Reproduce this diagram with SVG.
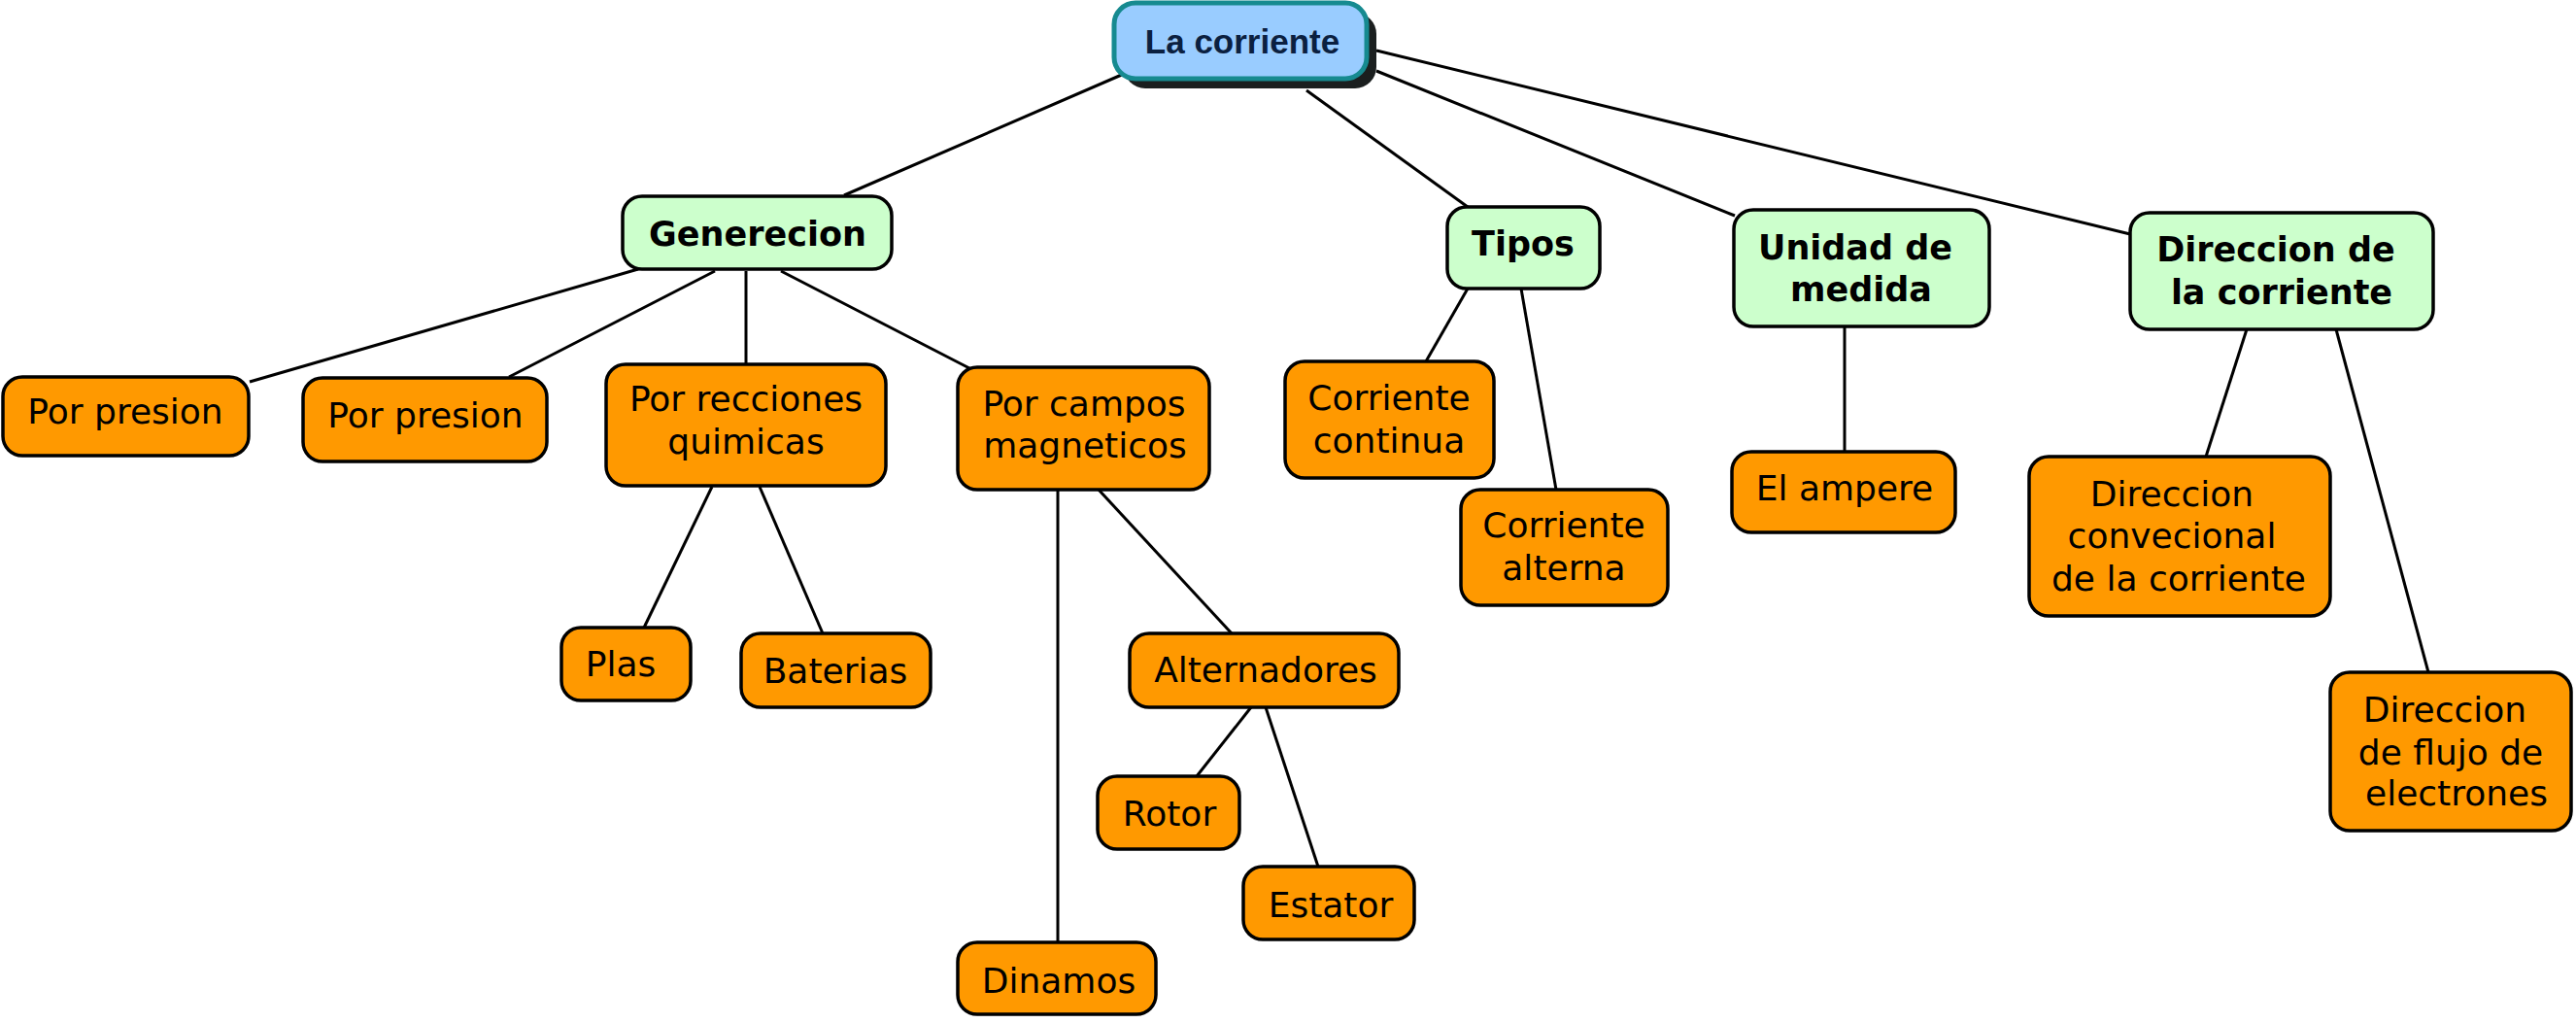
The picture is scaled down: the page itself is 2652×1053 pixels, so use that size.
<svg xmlns="http://www.w3.org/2000/svg" width="2652" height="1053" viewBox="0 0 2652 1053">
<style>
.bg{fill:#ffffff}
.c line{stroke:#000;stroke-width:3;fill:none}
.o{fill:#ff9900;stroke:#000;stroke-width:3.5}
.g{fill:#ccffcc;stroke:#000;stroke-width:3.5}
.t{font-family:"DejaVu Sans",Verdana,sans-serif;font-size:36px;fill:#000;text-anchor:middle}
.b{font-family:"DejaVu Sans",Verdana,sans-serif;font-size:35px;font-weight:bold;fill:#000;text-anchor:middle}
</style>
<rect class="bg" x="0" y="0" width="2652" height="1053"/>
<g id="connectors" class="c">
<line x1="1157" y1="76" x2="869" y2="201"/>
<line x1="1345" y1="93" x2="1511" y2="213"/>
<line x1="1417" y1="73" x2="1786" y2="222"/>
<line x1="1417" y1="52" x2="2193" y2="241"/>
<line x1="657" y1="277" x2="257" y2="393"/>
<line x1="736" y1="279" x2="524" y2="388"/>
<line x1="768" y1="279" x2="768" y2="375"/>
<line x1="804" y1="279" x2="998" y2="379"/>
<line x1="733" y1="501" x2="663" y2="646"/>
<line x1="782" y1="501" x2="847" y2="652"/>
<line x1="1089" y1="504" x2="1089" y2="970"/>
<line x1="1131" y1="504" x2="1268" y2="652"/>
<line x1="1288" y1="728" x2="1232" y2="799"/>
<line x1="1303" y1="728" x2="1357" y2="892"/>
<line x1="1511" y1="297" x2="1468" y2="372"/>
<line x1="1566" y1="297" x2="1602" y2="504"/>
<line x1="1899" y1="336" x2="1899" y2="465"/>
<line x1="2313" y1="339" x2="2271" y2="470"/>
<line x1="2405" y1="339" x2="2500" y2="692"/>
</g>
<g id="la-corriente">
<rect x="1157" y="13" width="260" height="78" rx="22" fill="#1b1f1f"/>
<rect x="1147" y="3" width="260" height="78" rx="22" fill="#99ccff" stroke="#168a90" stroke-width="5"/>
<text x="1279" y="55" font-family="'Liberation Sans',Arial,sans-serif" font-size="35" font-weight="bold" fill="#0b2040" text-anchor="middle">La corriente</text>
</g>
<g id="generecion">
<rect class="g" x="641" y="202" width="277" height="75" rx="20"/>
<text class="b" x="780" y="253">Generecion</text>
</g>
<g id="tipos">
<rect class="g" x="1490" y="213" width="157" height="84" rx="20"/>
<text class="b" x="1568" y="263">Tipos</text>
</g>
<g id="unidad">
<rect class="g" x="1785" y="216" width="263" height="120" rx="20"/>
<text class="b" x="1910" y="267">Unidad de</text>
<text class="b" x="1916" y="310">medida</text>
</g>
<g id="direccion">
<rect class="g" x="2193" y="219" width="312" height="120" rx="20"/>
<text class="b" x="2343" y="269">Direccion de</text>
<text class="b" x="2349" y="313">la corriente</text>
</g>
<g id="por-presion-1">
<rect class="o" x="3" y="388" width="253" height="81" rx="20"/>
<text class="t" x="129" y="436">Por presion</text>
</g>
<g id="por-presion-2">
<rect class="o" x="312" y="389" width="251" height="86" rx="20"/>
<text class="t" x="438" y="440">Por presion</text>
</g>
<g id="por-recciones">
<rect class="o" x="624" y="375" width="288" height="125" rx="20"/>
<text class="t" x="768" y="423">Por recciones</text>
<text class="t" x="768" y="467">quimicas</text>
</g>
<g id="por-campos">
<rect class="o" x="986" y="378" width="259" height="126" rx="20"/>
<text class="t" x="1116" y="428">Por campos</text>
<text class="t" x="1117" y="471">magneticos</text>
</g>
<g id="plas">
<rect class="o" x="578" y="646" width="133" height="75" rx="20"/>
<text class="t" x="639" y="696">Plas</text>
</g>
<g id="baterias">
<rect class="o" x="763" y="652" width="195" height="76" rx="20"/>
<text class="t" x="860" y="703">Baterias</text>
</g>
<g id="alternadores">
<rect class="o" x="1163" y="652" width="277" height="76" rx="20"/>
<text class="t" x="1303" y="702">Alternadores</text>
</g>
<g id="rotor">
<rect class="o" x="1130" y="799" width="146" height="75" rx="20"/>
<text class="t" x="1204" y="850">Rotor</text>
</g>
<g id="estator">
<rect class="o" x="1280" y="892" width="176" height="75" rx="20"/>
<text class="t" x="1370" y="944">Estator</text>
</g>
<g id="dinamos">
<rect class="o" x="986" y="970" width="204" height="74" rx="20"/>
<text class="t" x="1090" y="1022">Dinamos</text>
</g>
<g id="corriente-continua">
<rect class="o" x="1323" y="372" width="215" height="120" rx="20"/>
<text class="t" x="1430" y="422">Corriente</text>
<text class="t" x="1430" y="466">continua</text>
</g>
<g id="corriente-alterna">
<rect class="o" x="1504" y="504" width="213" height="119" rx="20"/>
<text class="t" x="1610" y="553">Corriente</text>
<text class="t" x="1610" y="597">alterna</text>
</g>
<g id="el-ampere">
<rect class="o" x="1783" y="465" width="230" height="83" rx="20"/>
<text class="t" x="1899" y="515">El ampere</text>
</g>
<g id="direccion-convencional">
<rect class="o" x="2089" y="470" width="310" height="164" rx="20"/>
<text class="t" x="2236" y="521">Direccion</text>
<text class="t" x="2236" y="564">convecional</text>
<text class="t" x="2243" y="608">de la corriente</text>
</g>
<g id="direccion-flujo">
<rect class="o" x="2399" y="692" width="248" height="163" rx="20"/>
<text class="t" x="2517" y="743">Direccion</text>
<text class="t" x="2523" y="787">de flujo de</text>
<text class="t" x="2529" y="829">electrones</text>
</g>
</svg>
